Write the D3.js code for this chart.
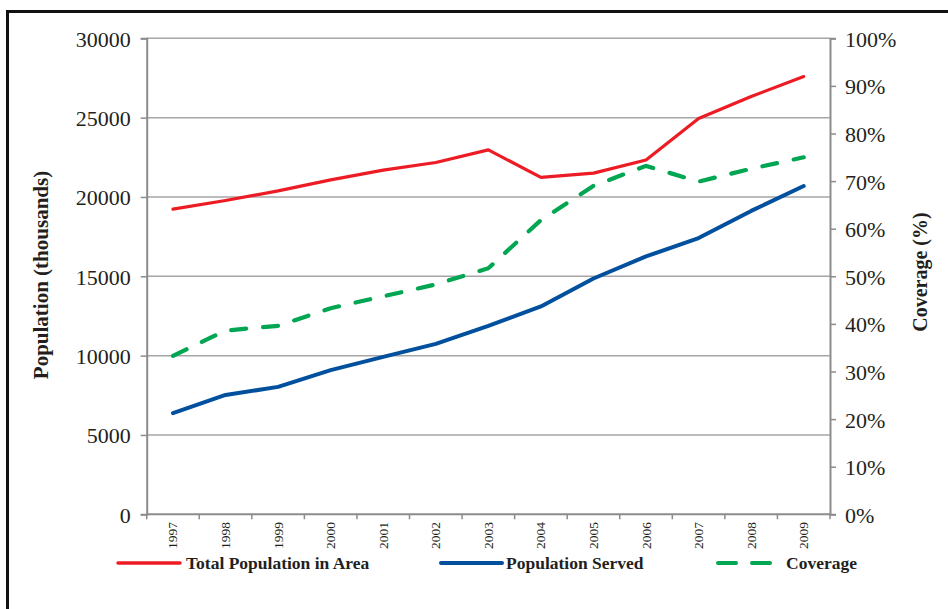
<!DOCTYPE html>
<html><head><meta charset="utf-8">
<script src="https://cdn.jsdelivr.net/npm/d3@7"></script>
<style>
html,body{margin:0;padding:0;background:#fff;}
svg{display:block;}
text{font-family:"Liberation Serif","DejaVu Serif",serif;fill:#231f20;}
</style></head>
<body>
<svg id="chart" width="948" height="609"></svg>
<script>
const years = ["1997","1998","1999","2000","2001","2002","2003","2004","2005","2006","2007","2008","2009"];
const totalPopulation = [19230,19780,20380,21080,21690,22170,22970,21230,21500,22330,24950,26330,27590];
const populationServed = [6380,7520,8030,9090,9920,10740,11870,13100,14860,16250,17410,19120,20690];
const coverage = [0.333,0.386,0.396,0.433,0.458,0.483,0.517,0.618,0.690,0.732,0.699,0.726,0.750];
const leftTicks = [0,5000,10000,15000,20000,25000,30000];
const rightTicks = [0,0.1,0.2,0.3,0.4,0.5,0.6,0.7,0.8,0.9,1.0];
const seriesNames = ["Total Population in Area","Population Served","Coverage"];
const seriesColors = ["#ed1c24","#00509e","#00a651"];

const svg = d3.select("#chart");
const L = 146.7, R = 830, T = 38.3, B = 514.3;

const x = d3.scaleBand().domain(years).range([L, R]).padding(0);
const yL = d3.scaleLinear().domain([0, 30000]).range([B, T]);
const yR = d3.scaleLinear().domain([0, 1]).range([B, T]);
const cx = d => x(d) + x.bandwidth() / 2;

// frame
svg.append("rect").attr("x", 7.5).attr("y", 11.5).attr("width", 960).attr("height", 620)
  .attr("fill", "none").attr("stroke", "#111").attr("stroke-width", 3);

// gridlines
svg.append("g").selectAll("line").data(leftTicks.filter(v => v > 0)).join("line")
  .attr("x1", L).attr("x2", R).attr("y1", d => yL(d)).attr("y2", d => yL(d))
  .attr("stroke", "#a6a6a6").attr("stroke-width", 1.5);

// left axis
const gl = svg.append("g").attr("transform", `translate(${L},0)`)
  .call(d3.axisLeft(yL).tickValues(leftTicks).tickFormat(d3.format("d")).tickSize(6).tickPadding(10));
gl.select(".domain").attr("stroke", "#8c8c8c").attr("stroke-width", 2);
gl.selectAll(".tick line").attr("stroke", "#8c8c8c").attr("stroke-width", 1.5);
gl.selectAll(".tick text").style("font-size", "22px").attr("fill", "#231f20").attr("dy", "0.36em");

// right axis
const gr = svg.append("g").attr("transform", `translate(${R},0)`)
  .call(d3.axisRight(yR).tickValues(rightTicks).tickFormat(d3.format(".0%")).tickSize(6).tickPadding(9));
gr.select(".domain").attr("stroke", "#8c8c8c").attr("stroke-width", 2);
gr.selectAll(".tick line").attr("stroke", "#8c8c8c").attr("stroke-width", 1.5);
gr.selectAll(".tick text").style("font-size", "22px").attr("fill", "#231f20").attr("dy", "0.36em");

// bottom axis line + ticks between categories
const gb = svg.append("g");
gb.append("line").attr("x1", L).attr("x2", R).attr("y1", B).attr("y2", B)
  .attr("stroke", "#8c8c8c").attr("stroke-width", 2);
const edges = years.map(d => x(d)).concat([x(years[years.length - 1]) + x.bandwidth()]);
gb.selectAll("line.t").data(edges).join("line").attr("class", "t")
  .attr("x1", d => d).attr("x2", d => d).attr("y1", B).attr("y2", B + 5)
  .attr("stroke", "#8c8c8c").attr("stroke-width", 1.5);
gb.selectAll("text").data(years).join("text")
  .attr("transform", d => `translate(${cx(d) + 4.5},${522}) rotate(-90)`)
  .attr("text-anchor", "end").style("font-size", "13.5px").text(d => d);

// lines
const lineL = d3.line().x((d, i) => cx(years[i])).y(d => yL(d));
const lineR = d3.line().x((d, i) => cx(years[i])).y(d => yR(d));
svg.append("path").datum(totalPopulation).attr("d", lineL).attr("fill", "none")
  .attr("stroke", seriesColors[0]).attr("stroke-width", 3.2).attr("stroke-linejoin", "round").attr("stroke-linecap", "round");
svg.append("path").datum(populationServed).attr("d", lineL).attr("fill", "none")
  .attr("stroke", seriesColors[1]).attr("stroke-width", 4).attr("stroke-linejoin", "round").attr("stroke-linecap", "round");
svg.append("path").datum(coverage).attr("d", lineR).attr("fill", "none")
  .attr("stroke", seriesColors[2]).attr("stroke-width", 4.2).attr("stroke-dasharray", "15 17").attr("stroke-linecap", "round");

// axis titles
svg.append("text").attr("transform", "translate(48,275) rotate(-90)").attr("text-anchor", "middle")
  .style("font-size", "21px").style("font-weight", "bold").text("Population (thousands)");
svg.append("text").attr("transform", "translate(927,272) rotate(-90)").attr("text-anchor", "middle")
  .style("font-size", "20px").style("font-weight", "bold").text("Coverage (%)");

// legend
const leg = svg.append("g");
const legItems = [
  {x1: 118, x2: 180, tx: 186},
  {x1: 441, x2: 502, tx: 506},
  {x1: 718, x2: 772, tx: 786}
];
legItems.forEach((it, i) => {
  const ln = leg.append("line").attr("x1", it.x1).attr("x2", it.x2).attr("y1", 563).attr("y2", 563)
    .attr("stroke", seriesColors[i]).attr("stroke-width", i === 0 ? 3.5 : 4).attr("stroke-linecap", "round");
  if (i === 2) ln.attr("stroke-dasharray", "18 16");
  leg.append("text").attr("x", it.tx).attr("y", 569).style("font-size", "17.5px").style("font-weight", "bold")
    .text(seriesNames[i]);
});
</script>
</body></html>
